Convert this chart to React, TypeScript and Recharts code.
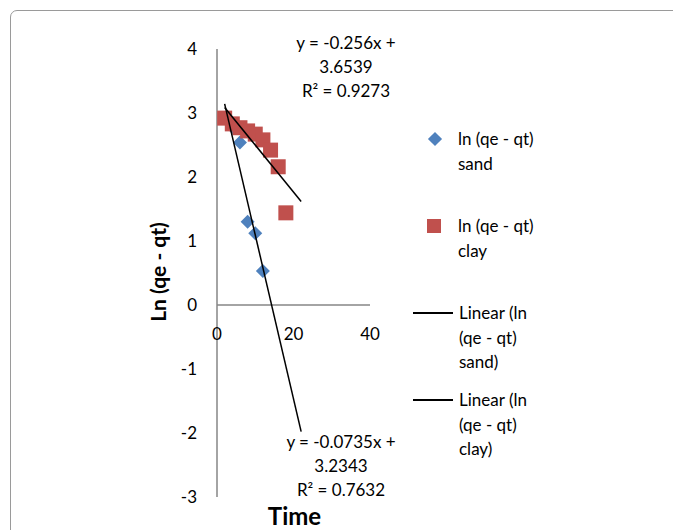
import { ScatterChart, Scatter, XAxis, YAxis, ReferenceLine, Label } from 'recharts';

// time values and ln(qe - qt)
const sandTime = [2, 4, 6, 8, 10, 12];
const sandLn   = [2.92, 2.78, 2.54, 1.3, 1.12, 0.53];
const clayTime = [2, 4, 6, 8, 10, 12, 14, 16, 18];
const clayLn   = [2.92, 2.83, 2.77, 2.72, 2.67, 2.58, 2.42, 2.16, 1.44];

// fitted trendlines as printed on the chart
const sandFit = { slope: -0.256, intercept: 3.6539, r2: '0.9273' };
const clayFit = { slope: -0.0735, intercept: 3.2343, r2: '0.7632' };
const trendRange = [2, 22];

const xTicks = [0, 20, 40];
const yTicks = [-3, -2, -1, 0, 1, 2, 3, 4];

const sandData = sandTime.map((x, i) => ({ x, y: sandLn[i] }));
const clayData = clayTime.map((x, i) => ({ x, y: clayLn[i] }));
const fitLine = (f: { slope: number; intercept: number }) =>
  trendRange.map((x) => ({ x, y: f.slope * x + f.intercept }));

const W = 673;
const H = 522;
const margin = { top: 41, right: 311, bottom: 0, left: 149 };
const yAxisW = 60;
const xAxisH = 33;
const plotH = H - margin.top - margin.bottom - xAxisH;
const yMin = yTicks[0];
const yMax = yTicks[yTicks.length - 1];
const zeroY = margin.top + (plotH * yMax) / (yMax - yMin);

const font = 'Lato, "Open Sans", sans-serif';
const axisGray = '#868686';
const blue = '#4F81BD';
const red = '#C0504D';

const Diamond = (p: any) => {
  const { cx, cy } = p;
  const r = 7;
  return <polygon points={`${cx},${cy - r} ${cx + r},${cy} ${cx},${cy + r} ${cx - r},${cy}`} fill={blue} />;
};

const Square = (p: any) => {
  const { cx, cy } = p;
  return <rect x={cx - 7.5} y={cy - 7.5} width={15} height={15} fill={red} />;
};

const NoMark = () => <g />;

const XTick = (p: any) => (
  <text x={p.x} y={zeroY + 35} textAnchor="middle" fill="#000" fontSize={17} fontFamily={font}>
    {p.payload.value}
  </text>
);

const legendItems = [
  { kind: 'diamond', lines: ['ln (qe - qt)', 'sand'], top: 131 },
  { kind: 'square', lines: ['ln (qe - qt)', 'clay'], top: 218 },
  { kind: 'line', lines: ['Linear (ln', '(qe - qt)', 'sand)'], top: 305 },
  { kind: 'line', lines: ['Linear (ln', '(qe - qt)', 'clay)'], top: 392 },
];

function LegendMarker({ kind }: { kind: string }) {
  if (kind === 'diamond') {
    return <div style={{ position: 'absolute', left: 422, top: 3, width: 10, height: 10, background: blue, transform: 'rotate(45deg)' }} />;
  }
  if (kind === 'square') {
    return <div style={{ position: 'absolute', left: 419, top: 1, width: 14, height: 14, background: red }} />;
  }
  return <div style={{ position: 'absolute', left: 405, top: 7, width: 40, height: 1.5, background: '#000' }} />;
}

export default function App() {
  return (
    <div style={{ position: 'relative', width: W, height: H, overflow: 'hidden', fontFamily: font, background: '#fff' }}>
      <div
        style={{
          position: 'absolute', left: 2, top: 2, width: 720, height: 620,
          border: '1.5px solid #9a9a9a', borderRadius: 7, boxSizing: 'border-box',
        }}
      />
      <ScatterChart width={W} height={H} margin={margin} style={{ position: 'absolute', left: 0, top: 0 }}>
        <XAxis
          type="number"
          dataKey="x"
          domain={[0, 40]}
          ticks={xTicks}
          axisLine={false}
          tickLine={false}
          height={xAxisH}
          tick={<XTick />}
        >
          <Label
            content={({ viewBox }: any) => (
              <text x={viewBox.x + viewBox.width / 2 + 1} y={viewBox.y + 28} textAnchor="middle" fontSize={24} fontWeight="bold" fontFamily={font} fill="#000">
                Time
              </text>
            )}
          />
        </XAxis>
        <YAxis
          type="number"
          dataKey="y"
          domain={[yMin, yMax]}
          ticks={yTicks}
          width={yAxisW}
          axisLine={{ stroke: axisGray, strokeWidth: 1.5 }}
          tickLine={false}
          tickMargin={14}
          tick={{ fill: '#000', fontSize: 17, fontFamily: font }}
        >
          <Label
            content={({ viewBox }: any) => {
              const cx = viewBox.x;
              const cy = viewBox.y + viewBox.height / 2 - 1;
              return (
                <text x={cx} y={cy} transform={`rotate(-90 ${cx} ${cy})`} textAnchor="middle" dominantBaseline="central" fontSize={21} fontWeight="bold" fontFamily={font} fill="#000">
                  Ln (qe - qt)
                </text>
              );
            }}
          />
        </YAxis>
        <ReferenceLine y={0} stroke={axisGray} strokeWidth={1.5} />
        <Scatter data={sandData} shape={<Diamond />} isAnimationActive={false} />
        <Scatter data={clayData} shape={<Square />} isAnimationActive={false} />
        <Scatter data={fitLine(sandFit)} line={{ stroke: '#000', strokeWidth: 1.5 }} shape={<NoMark />} isAnimationActive={false} />
        <Scatter data={fitLine(clayFit)} line={{ stroke: '#000', strokeWidth: 1.5 }} shape={<NoMark />} isAnimationActive={false} />
      </ScatterChart>

      {/* trendline equations */}
      <div style={{ position: 'absolute', left: 268, top: 23, width: 140, textAlign: 'center', fontSize: 17, lineHeight: '24px', color: '#000' }}>
        <div>y = {sandFit.slope}x +</div>
        <div>{sandFit.intercept}</div>
        <div>R² = {sandFit.r2}</div>
      </div>
      <div style={{ position: 'absolute', left: 263, top: 422, width: 140, textAlign: 'center', fontSize: 17, lineHeight: '24px', color: '#000' }}>
        <div>y = {clayFit.slope}x +</div>
        <div>{clayFit.intercept}</div>
        <div>R² = {clayFit.r2}</div>
      </div>

      {/* legend */}
      {legendItems.map((item, i) => (
        <div key={i} style={{ position: 'absolute', left: 0, top: item.top - 8, width: W }}>
          <LegendMarker kind={item.kind} />
          <div style={{ position: 'absolute', left: item.kind === 'line' ? 451 : 450, top: -4, fontSize: 17, lineHeight: '24.5px', color: '#000', whiteSpace: 'nowrap' }}>
            {item.lines.map((l, j) => (
              <div key={j}>{l}</div>
            ))}
          </div>
        </div>
      ))}
    </div>
  );
}
